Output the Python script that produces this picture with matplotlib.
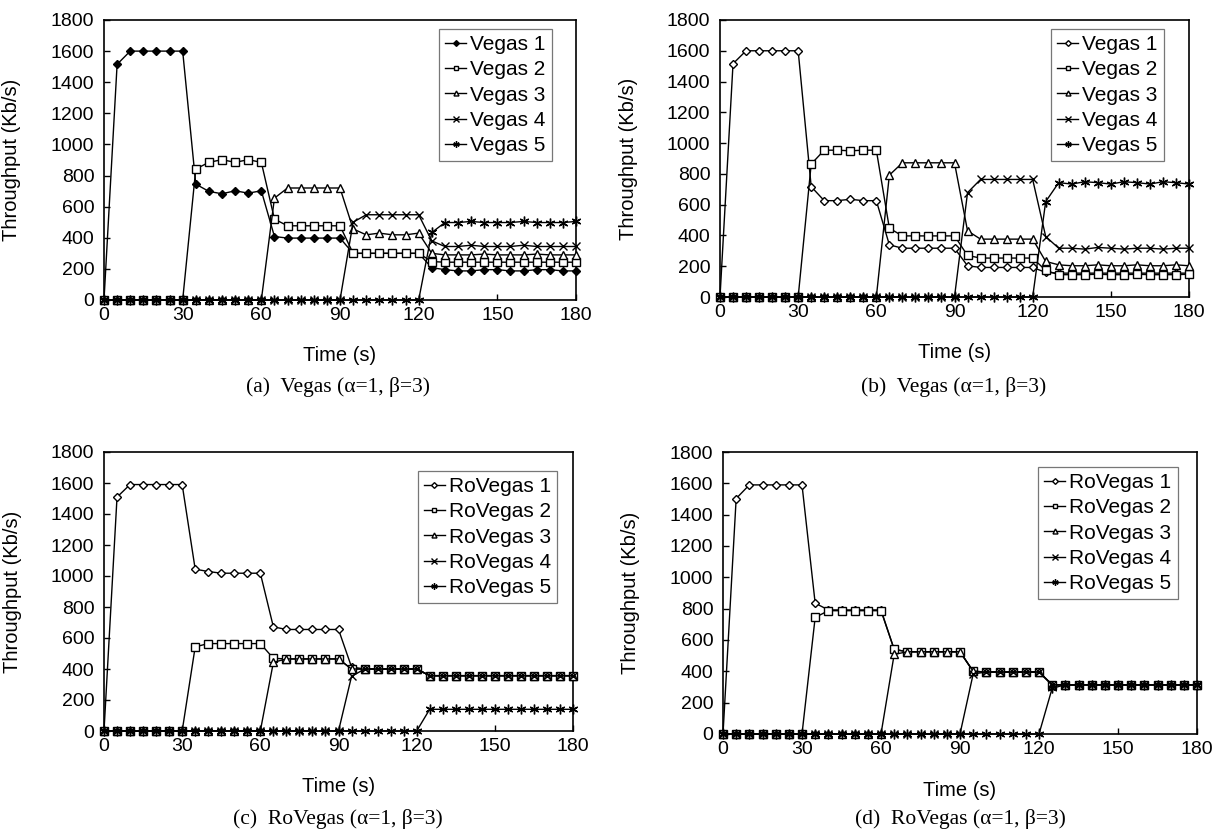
import numpy as np
import matplotlib
matplotlib.use("Agg")
import matplotlib.pyplot as plt

plt.rcParams["font.family"] = ["Liberation Sans", "DejaVu Sans"]

# ── data ──────────────────────────────────────────────────────────────────
time_s = np.arange(0, 181, 5)

vegas_a = [
    [0, 1515, 1600, 1600, 1600, 1600, 1600, 745, 698, 683, 702, 687, 702,
     408, 398, 398, 398, 398, 398, 300, 300, 300, 300, 300, 300,
     208, 195, 187, 187, 195, 195, 187, 187, 195, 195, 187, 187],
    [0, 0, 0, 0, 0, 0, 0, 842, 885, 902, 885, 902, 885,
     520, 477, 477, 477, 477, 477, 300, 300, 300, 300, 300, 300,
     247, 243, 243, 243, 243, 243, 243, 243, 243, 243, 243, 243],
    [0, 0, 0, 0, 0, 0, 0, 0, 0, 0, 0, 0, 0,
     655, 720, 720, 720, 720, 720, 457, 419, 430, 419, 419, 430,
     300, 290, 290, 290, 295, 290, 290, 290, 295, 290, 290, 290],
    [0, 0, 0, 0, 0, 0, 0, 0, 0, 0, 0, 0, 0,
     0, 0, 0, 0, 0, 0, 500, 548, 548, 548, 548, 548,
     380, 344, 344, 352, 344, 344, 344, 352, 344, 344, 344, 344],
    [0, 0, 0, 0, 0, 0, 0, 0, 0, 0, 0, 0, 0,
     0, 0, 0, 0, 0, 0, 0, 0, 0, 0, 0, 0,
     434, 498, 498, 505, 498, 498, 498, 505, 498, 498, 498, 505],
]

vegas_b = [
    [0, 1516, 1600, 1600, 1600, 1600, 1600, 717, 626, 626, 635, 626, 626,
     339, 317, 317, 317, 317, 317, 203, 192, 192, 192, 192, 192,
     160, 155, 155, 155, 155, 155, 155, 155, 155, 155, 155, 155],
    [0, 0, 0, 0, 0, 0, 0, 864, 954, 954, 950, 954, 954,
     447, 397, 397, 397, 397, 397, 270, 253, 253, 253, 253, 253,
     173, 145, 145, 145, 148, 145, 145, 148, 145, 145, 145, 148],
    [0, 0, 0, 0, 0, 0, 0, 0, 0, 0, 0, 0, 0,
     792, 872, 872, 872, 872, 872, 430, 376, 376, 376, 376, 376,
     231, 209, 203, 203, 209, 203, 203, 209, 203, 203, 209, 203],
    [0, 0, 0, 0, 0, 0, 0, 0, 0, 0, 0, 0, 0,
     0, 0, 0, 0, 0, 0, 678, 764, 764, 764, 764, 764,
     393, 317, 317, 311, 322, 317, 311, 317, 317, 311, 317, 317],
    [0, 0, 0, 0, 0, 0, 0, 0, 0, 0, 0, 0, 0,
     0, 0, 0, 0, 0, 0, 0, 0, 0, 0, 0, 0,
     620, 743, 734, 749, 743, 734, 749, 743, 734, 749, 743, 734],
]

rovegas_c = [
    [0, 1509, 1590, 1590, 1590, 1590, 1590, 1044, 1029, 1018, 1018, 1018, 1018,
     672, 655, 655, 655, 655, 655, 413, 400, 400, 400, 400, 400,
     357, 357, 357, 357, 357, 357, 357, 357, 357, 357, 357, 357],
    [0, 0, 0, 0, 0, 0, 0, 543, 564, 564, 564, 564, 564,
     469, 465, 465, 465, 465, 465, 400, 400, 400, 400, 400, 400,
     357, 357, 357, 357, 357, 357, 357, 357, 357, 357, 357, 357],
    [0, 0, 0, 0, 0, 0, 0, 0, 0, 0, 0, 0, 0,
     443, 465, 465, 465, 465, 465, 400, 400, 400, 400, 400, 400,
     357, 357, 357, 357, 357, 357, 357, 357, 357, 357, 357, 357],
    [0, 0, 0, 0, 0, 0, 0, 0, 0, 0, 0, 0, 0,
     0, 0, 0, 0, 0, 0, 352, 400, 400, 400, 400, 400,
     357, 357, 357, 357, 357, 357, 357, 357, 357, 357, 357, 357],
    [0, 0, 0, 0, 0, 0, 0, 0, 0, 0, 0, 0, 0,
     0, 0, 0, 0, 0, 0, 0, 0, 0, 0, 0, 0,
     140, 140, 140, 140, 140, 140, 140, 140, 140, 140, 140, 140],
]

rovegas_d = [
    [0, 1503, 1590, 1590, 1590, 1590, 1590, 835, 792, 792, 792, 792, 792,
     540, 525, 525, 525, 525, 525, 400, 396, 396, 396, 396, 396,
     314, 314, 314, 314, 314, 314, 314, 314, 314, 314, 314, 314],
    [0, 0, 0, 0, 0, 0, 0, 744, 787, 787, 787, 787, 787,
     540, 525, 525, 525, 525, 525, 400, 396, 396, 396, 396, 396,
     314, 314, 314, 314, 314, 314, 314, 314, 314, 314, 314, 314],
    [0, 0, 0, 0, 0, 0, 0, 0, 0, 0, 0, 0, 0,
     508, 525, 525, 525, 525, 525, 400, 396, 396, 396, 396, 396,
     314, 314, 314, 314, 314, 314, 314, 314, 314, 314, 314, 314],
    [0, 0, 0, 0, 0, 0, 0, 0, 0, 0, 0, 0, 0,
     0, 0, 0, 0, 0, 0, 383, 396, 396, 396, 396, 396,
     314, 314, 314, 314, 314, 314, 314, 314, 314, 314, 314, 314],
    [0, 0, 0, 0, 0, 0, 0, 0, 0, 0, 0, 0, 0,
     0, 0, 0, 0, 0, 0, 0, 0, 0, 0, 0, 0,
     292, 314, 314, 314, 314, 314, 314, 314, 314, 314, 314, 314],
]

vegas_names = ["Vegas 1", "Vegas 2", "Vegas 3", "Vegas 4", "Vegas 5"]
rovegas_names = ["RoVegas 1", "RoVegas 2", "RoVegas 3", "RoVegas 4", "RoVegas 5"]
captions = ["(a)  Vegas (α=1, β=3)", "(b)  Vegas (α=1, β=3)",
            "(c)  RoVegas (α=1, β=3)", "(d)  RoVegas (α=1, β=3)"]

# ── style ─────────────────────────────────────────────────────────────────
MARKERS = ["D", "s", "^", "x", (6, 2, 0)]
MSIZE = [4.5, 5.5, 5.5, 6, 7]


def draw_panel(ax, series, names, first_filled, leg_box):
    for i, (vals, name) in enumerate(zip(series, names)):
        face = "black" if (i == 0 and first_filled) or i >= 3 else "white"
        ax.plot(time_s, vals, color="black", linewidth=1.0,
                marker=MARKERS[i], markersize=MSIZE[i],
                markerfacecolor=face, markeredgecolor="black",
                markeredgewidth=1.0, label=name, clip_on=False, zorder=3)
    ax.set_xlim(0, 180)
    ax.set_ylim(0, 1800)
    ax.set_xticks(range(0, 181, 30))
    ax.set_yticks(range(0, 1801, 200))
    ax.tick_params(direction="in", length=4, width=1, labelsize=14, pad=5)
    ax.tick_params(axis="y", pad=7)
    for sp in ax.spines.values():
        sp.set_linewidth(1.2)
    ax.set_xlabel("Time (s)", fontsize=14.5)
    ax.set_ylabel("Throughput (Kb/s)", fontsize=14.5)
    ax.xaxis.set_label_coords(0.5, -0.165)
    ax.yaxis.set_label_coords(-0.175, 0.5)
    leg = ax.legend(loc="upper left", bbox_to_anchor=leg_box, fontsize=15,
                    frameon=True, fancybox=False, handlelength=1.0,
                    handletextpad=0.2, labelspacing=0.3, borderpad=0.3,
                    borderaxespad=0, markerscale=0.65)
    leg.get_frame().set_edgecolor("#555555")
    leg.get_frame().set_linewidth(0.9)


W, H = 1225, 831
fig = plt.figure(figsize=(W / 100, H / 100), dpi=100)
fig.patch.set_facecolor("white")


def box(l, t, r, b):
    return [l / W, 1 - b / H, (r - l) / W, (b - t) / H]


ax_a = fig.add_axes(box(104, 20, 576, 300))
ax_b = fig.add_axes(box(720, 20, 1189, 297))
ax_c = fig.add_axes(box(104, 452, 573, 731))
ax_d = fig.add_axes(box(723, 452, 1197, 734))

draw_panel(ax_a, vegas_a, vegas_names, True, (0.710, 0.968))
draw_panel(ax_b, vegas_b, vegas_names, False, (0.706, 0.968))
draw_panel(ax_c, rovegas_c, rovegas_names, False, (0.669, 0.932))
draw_panel(ax_d, rovegas_d, rovegas_names, False, (0.665, 0.947))

serif = ["Liberation Serif", "DejaVu Serif"]
for (x, y), cap in zip([(338, 387), (954, 387), (338, 819), (960, 819)], captions):
    fig.text(x / W, 1 - y / H, cap, ha="center", va="center",
             fontsize=15.5, family=serif)

fig.savefig("out.png", dpi=100, facecolor="white")
